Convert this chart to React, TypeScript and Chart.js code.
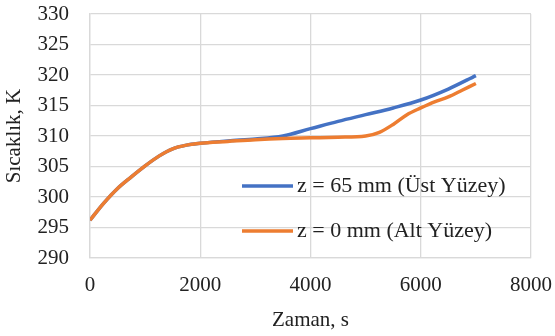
import React, { useEffect, useRef } from "react";
import { Chart, registerables } from "chart.js";

Chart.register(...registerables);

const timesTop = [0, 250, 500, 750, 1000, 1250, 1500, 1750, 2000, 2500, 3000, 3500, 4000, 4500, 5000, 5500, 6000, 6500, 7000];
const topSurface = [296.2, 299.0, 301.4, 303.3, 305.1, 306.7, 307.9, 308.5, 308.8, 309.2, 309.5, 310.0, 311.2, 312.4, 313.5, 314.6, 315.9, 317.7, 319.9];

const timesBottom = [0, 250, 500, 750, 1000, 1250, 1500, 1750, 2000, 2500, 3000, 3500, 4000, 4500, 5000, 5250, 5500, 5750, 6000, 6250, 6500, 6750, 7000];
const bottomSurface = [296.2, 299.0, 301.4, 303.3, 305.1, 306.7, 307.9, 308.5, 308.8, 309.1, 309.4, 309.6, 309.7, 309.8, 310.0, 310.6, 311.9, 313.5, 314.6, 315.6, 316.4, 317.5, 318.6];

const seriesLabels = ["z = 65 mm (Üst Yüzey)", "z = 0 mm (Alt Yüzey)"];
const seriesColors = ["#4472C4", "#ED7D31"];

const xTitle = "Zaman, s";
const yTitle = "Sıcaklık, K";

const FONT = "'Liberation Serif', 'Times New Roman', serif";

const legendPlugin = {
  id: "insideLegend",
  afterDatasetsDraw(chart: any) {
    const { ctx, chartArea } = chart;
    ctx.save();
    ctx.font = `22px ${FONT}`;
    ctx.fillStyle = "#222";
    ctx.textBaseline = "middle";
    ctx.textAlign = "left";
    const x0 = chartArea.left + 152;
    const rows = [chartArea.top + 172, chartArea.top + 217];
    seriesLabels.forEach((label, i) => {
      ctx.strokeStyle = seriesColors[i];
      ctx.lineWidth = 3.5;
      ctx.beginPath();
      ctx.moveTo(x0, rows[i]);
      ctx.lineTo(x0 + 51, rows[i]);
      ctx.stroke();
      ctx.fillText(label, x0 + 55, rows[i]);
    });
    ctx.restore();
  },
};

export default function App() {
  const ref = useRef<HTMLCanvasElement>(null);
  useEffect(() => {
    document.body.style.margin = "0";
    if (!ref.current) return;
    const chart = new Chart(ref.current, {
      type: "line",
      data: {
        datasets: [
          {
            label: seriesLabels[0],
            data: timesTop.map((t, i) => ({ x: t, y: topSurface[i] })),
            borderColor: seriesColors[0],
            backgroundColor: seriesColors[0],
            borderWidth: 3.5,
            pointRadius: 0,
            cubicInterpolationMode: "monotone",
            order: 2,
          },
          {
            label: seriesLabels[1],
            data: timesBottom.map((t, i) => ({ x: t, y: bottomSurface[i] })),
            borderColor: seriesColors[1],
            backgroundColor: seriesColors[1],
            borderWidth: 3.5,
            pointRadius: 0,
            cubicInterpolationMode: "monotone",
            order: 1,
          },
        ],
      },
      options: {
        animation: false,
        responsive: false,
        layout: { padding: { left: 0, right: 24, top: 14, bottom: 0 } },
        plugins: { legend: { display: false }, tooltip: { enabled: false } },
        scales: {
          x: {
            type: "linear",
            min: 0,
            max: 8000,
            ticks: {
              stepSize: 2000,
              padding: 0,
              autoSkip: false,
              maxRotation: 0,
              color: "#222",
              font: { family: FONT, size: 21 },
              callback: (v: any) => String(v),
            },
            grid: { color: "#d9d9d9", drawTicks: true, tickLength: 15, tickColor: "rgba(0,0,0,0)", lineWidth: 1.3 },
            border: { color: "#d9d9d9", width: 1.3 },
            title: { display: true, text: xTitle, color: "#222", font: { family: FONT, size: 21 }, padding: { top: 0, bottom: 3 } },
            afterFit(scale: any) {
              scale.height = 78;
            },
          },
          y: {
            min: 290,
            max: 330,
            ticks: {
              stepSize: 5,
              padding: 0,
              autoSkip: false,
              color: "#222",
              font: { family: FONT, size: 21 },
              callback: (v: any) => String(v),
            },
            grid: { color: "#d9d9d9", drawTicks: true, tickLength: 21, tickColor: "rgba(0,0,0,0)", lineWidth: 1.3 },
            border: { color: "#d9d9d9", width: 1.3 },
            title: { display: true, text: yTitle, color: "#222", font: { family: FONT, size: 21 }, padding: { top: 2, bottom: 0 } },
            afterFit(scale: any) {
              scale.width = 90;
            },
          },
        },
      },
      plugins: [legendPlugin],
    });
    return () => chart.destroy();
  }, []);
  return (
    <div style={{ width: 555, height: 336, background: "#fff" }}>
      <canvas ref={ref} width={555} height={336} />
    </div>
  );
}
